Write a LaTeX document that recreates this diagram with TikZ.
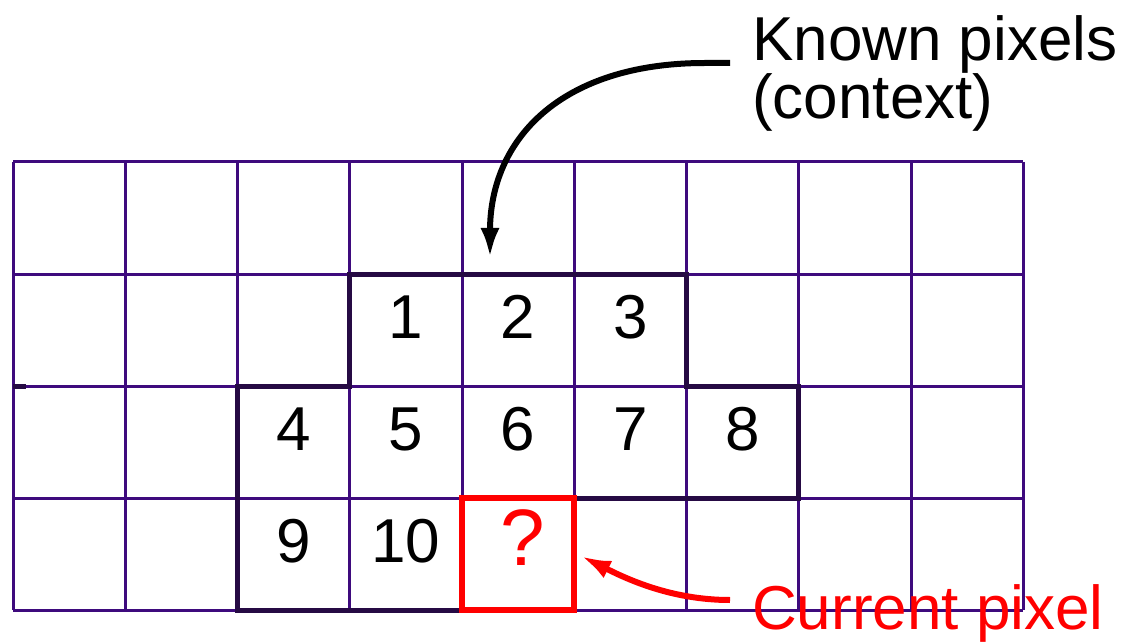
\documentclass[tikz,border=0pt]{standalone}
\usepackage{fontspec}
\setmainfont{Liberation Sans}
\usetikzlibrary{arrows.meta}
\definecolor{gridpurple}{RGB}{62,10,125}
\definecolor{ctxdark}{RGB}{38,10,68}
\definecolor{curred}{RGB}{255,0,0}
\begin{document}
\begin{tikzpicture}[x=1pt,y=-1pt,
  gridline/.style={draw=gridpurple,line width=3pt},
  ctxline/.style={draw=ctxdark,line width=5pt,line join=miter},
  digit/.style={inner sep=0pt,font=\fontsize{62}{62}\selectfont},
  label/.style={inner sep=0pt,align=left,font=\fontsize{62}{58}\selectfont},
  curbox/.style={draw=curred,line width=5.5pt,minimum width=112.25pt,minimum height=112pt,inner sep=0pt},
  blackarrow/.style={draw=black,line width=6pt,-{Latex[length=30pt,width=19pt]}},
  redarrow/.style={draw=curred,line width=6pt,-{Latex[length=30pt,width=19pt]}}]
\useasboundingbox (0,0) rectangle (1126,644);
% pixel grid
\foreach \i in {0,...,9}
  \draw[gridline] ({13+112.25*\i},162) -- ({13+112.25*\i},610);
\foreach \j in {0,...,4}
  \draw[gridline] (13,{162+112*\j}) -- (1023.25,{162+112*\j});
% outline of the context pixels
\draw[ctxline] (349.75,274) -- (686.5,274) -- (686.5,386) -- (798.75,386)
  -- (798.75,498) -- (462,498) -- (462,610) -- (237.5,610) -- (237.5,386)
  -- (349.75,386) -- cycle;
\draw[ctxline] (13,386) -- (26,386);
% numbered context pixels
\foreach \n/\c/\r in {1/3/1,2/4/1,3/5/1,4/2/2,5/3/2,6/4/2,7/5/2,8/6/2,9/2/3,10/3/3}
  \node[digit] (n\n) at ({13+112.25*(\c+0.5)},{162+112*(\r+0.5)-13}) {\n};
% current pixel
\node[curbox] (cur) at (518.1,554) {};
\node[inner sep=0pt,text=curred,font=\fontsize{80}{80}\selectfont] (q) at (523,538) {?};
% labels
\node[label,anchor=north west] (known) at (752,15) {Known pixels\\(context)};
\node[label,anchor=base west,text=curred] (current) at (752,629) {Current pixel};
% connectors
\coordinate (kstart) at (730,63);
\coordinate (ktip) at (490,258);
\draw[blackarrow] (kstart) -- (705,63) .. controls (560,63) and (490,140) .. (ktip);
\coordinate (cstart) at (730,600);
\draw[redarrow] (cstart) .. controls (670,600) and (625,578) .. ([xshift=4pt,yshift=-2pt]cur.east);
\end{tikzpicture}
\end{document}
